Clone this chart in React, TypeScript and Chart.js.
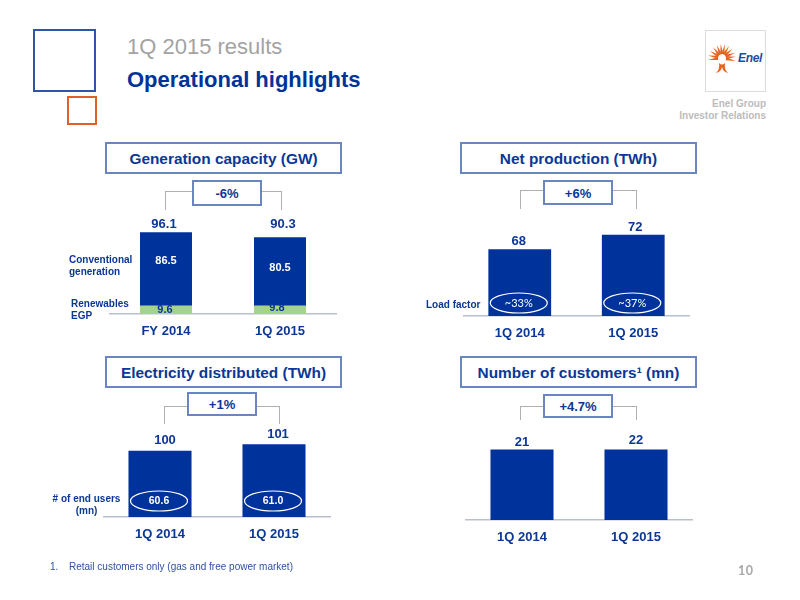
import React, { useEffect, useRef } from "react";
import { Chart, registerables } from "chart.js";

Chart.register(...registerables);

const NAVY = "#0b3796";
const BAR = "#00329b";
const GREEN = "#a6d38b";
const FONT = '"Liberation Sans", Arial, sans-serif';

const capacityCategories = ["FY 2014", "1Q 2015"];
const capacityRenewables = [9.6, 9.8];
const capacityConventional = [86.5, 80.5];
const capacityTotals = [96.1, 90.3];

const productionCategories = ["1Q 2014", "1Q 2015"];
const productionValues = [68, 72];
const loadFactors = ["~33%", "~37%"];

const distributedCategories = ["1Q 2014", "1Q 2015"];
const distributedValues = [100, 101];
const endUsers = ["60.6", "61.0"];

const customerCategories = ["1Q 2014", "1Q 2015"];
// the slide prints rounded numbers but draws both bars the same height
const customerValues = [21.49, 21.5];

type Panel = {
  left: number;
  width: number;
  top: number;
  baseline: number;
  min: number;
  max: number;
  barPercentage: number;
  categories: string[];
  series: { data: number[]; color: string }[];
  topLabels: string[];
  topShift: number[][];
  inside?: { series: number; labels: number[]; color: string; shift: number[][] }[];
  ovals?: string[];
  ovalFont?: string;
  ovalRise?: number;
};

const panels: Panel[] = [
  {
    left: 109, width: 228, top: 200, baseline: 314, min: 0, max: 134, barPercentage: 0.456,
    categories: capacityCategories,
    series: [
      { data: capacityRenewables, color: GREEN },
      { data: capacityConventional, color: BAR },
    ],
    topLabels: capacityTotals.map((v) => v.toFixed(1)),
    topShift: [[-2, -8], [3, -12.5]],
    inside: [
      { series: 0, labels: capacityRenewables, color: NAVY, shift: [[-1, 0], [-3, -2]] },
      { series: 1, labels: capacityConventional, color: "#ffffff", shift: [[0, -8], [0, -3]] },
    ],
  },
  {
    left: 463, width: 227, top: 200, baseline: 316, min: 49.6, max: 81.6, barPercentage: 0.553,
    categories: productionCategories,
    series: [{ data: productionValues, color: BAR }],
    topLabels: productionValues.map(String),
    topShift: [[-1, -8], [2, -7]],
    ovals: loadFactors,
    ovalFont: '11px Lato, sans-serif',
    ovalRise: 13,
  },
  {
    left: 103, width: 228, top: 410, baseline: 517, min: 89.8, max: 106.3, barPercentage: 0.553,
    categories: distributedCategories,
    series: [{ data: distributedValues, color: BAR }],
    topLabels: distributedValues.map(String),
    topShift: [[5, -10], [4, -10]],
    ovals: endUsers,
    ovalFont: `bold 10.5px ${FONT}`,
    ovalRise: 16,
  },
  {
    left: 465, width: 228, top: 410, baseline: 520, min: 0, max: 33.5, barPercentage: 0.553,
    categories: customerCategories,
    series: [{ data: customerValues, color: BAR }],
    topLabels: customerValues.map((v) => String(Math.round(v))),
    topShift: [[0, -7], [0, -9]],
  },
];

function marksPlugin(panel: Panel) {
  return {
    id: "marks",
    afterDatasetsDraw(chart: any) {
      const ctx = chart.ctx;
      ctx.save();
      ctx.textAlign = "center";
      ctx.textBaseline = "middle";
      const lastMeta = chart.getDatasetMeta(panel.series.length - 1);
      ctx.font = `bold 13px ${FONT}`;
      ctx.fillStyle = NAVY;
      panel.topLabels.forEach((text, i) => {
        const bar = lastMeta.data[i];
        ctx.fillText(text, bar.x + panel.topShift[i][0], bar.y + panel.topShift[i][1]);
      });
      (panel.inside || []).forEach((group) => {
        const meta = chart.getDatasetMeta(group.series);
        ctx.font = `bold 11px ${FONT}`;
        ctx.fillStyle = group.color;
        group.labels.forEach((v, i) => {
          const bar = meta.data[i];
          const y = (bar.y + bar.base) / 2;
          ctx.fillText(v.toFixed(1), bar.x + group.shift[i][0], y + group.shift[i][1]);
        });
      });
      (panel.ovals || []).forEach((text, i) => {
        const bar = lastMeta.data[i];
        // bar.base is off the canvas on the truncated axes, so go from the chart area
        const cy = chart.chartArea.bottom - (panel.ovalRise || 0);
        ctx.beginPath();
        ctx.ellipse(bar.x - 1, cy, 28.5, 10, 0, 0, Math.PI * 2);
        ctx.strokeStyle = "#ffffff";
        ctx.lineWidth = 1.2;
        ctx.stroke();
        ctx.font = panel.ovalFont;
        ctx.fillStyle = "#ffffff";
        ctx.fillText(text, bar.x - 1, cy);
      });
      ctx.restore();
    },
  };
}

const BarPanel: React.FC<{ panel: Panel }> = ({ panel }) => {
  const ref = useRef<HTMLCanvasElement | null>(null);

  useEffect(() => {
    if (!ref.current) return;
    const chart = new Chart(ref.current, {
      type: "bar",
      data: {
        labels: panel.categories,
        datasets: panel.series.map((s) => ({
          data: s.data,
          backgroundColor: s.color,
          barPercentage: panel.barPercentage,
          categoryPercentage: 1,
        })),
      },
      options: {
        animation: false,
        responsive: true,
        maintainAspectRatio: false,
        layout: { padding: 0 },
        plugins: { legend: { display: false }, tooltip: { enabled: false } },
        scales: {
          x: {
            stacked: true,
            grid: { display: false, drawTicks: false },
            border: { display: true, color: "#b9bfce", width: 1.5 },
            ticks: { color: NAVY, font: { family: FONT, size: 13, weight: "bold" }, padding: 10, maxRotation: 0 },
            afterFit: (axis: any) => {
              axis.height = 28;
            },
          },
          y: { stacked: true, display: false, min: panel.min, max: panel.max },
        },
      } as any,
      plugins: [marksPlugin(panel)],
    });
    return () => chart.destroy();
  }, [panel]);

  return (
    <div style={{ position: "absolute", left: panel.left, top: panel.top, width: panel.width, height: panel.baseline - panel.top + 28 }}>
      <canvas ref={ref} />
    </div>
  );
};

const Label: React.FC<{
  x: number;
  y: number;
  size: number;
  color?: string;
  bold?: boolean;
  align?: "left" | "right" | "center";
  children: React.ReactNode;
}> = ({ x, y, size, color = NAVY, bold = true, align = "left", children }) => {
  const shift = align === "left" ? "0" : align === "right" ? "-100%" : "-50%";
  return (
    <div
      style={{
        position: "absolute",
        left: x,
        top: y,
        transform: `translate(${shift}, -50%)`,
        fontFamily: FONT,
        fontSize: size,
        fontWeight: bold ? "bold" : "normal",
        color,
        whiteSpace: "nowrap",
        lineHeight: 1,
      }}
    >
      {children}
    </div>
  );
};

const Outline: React.FC<{ x: number; y: number; w: number; h: number; color: string; size?: number }> = ({ x, y, w, h, color, size = 2 }) => (
  <div style={{ position: "absolute", left: x, top: y, width: w, height: h, boxSizing: "border-box", border: `${size}px solid ${color}` }} />
);

const HeaderBox: React.FC<{ x: number; y: number; children: React.ReactNode }> = ({ x, y, children }) => (
  <>
    <Outline x={x} y={y} w={237} h={32} color="#6a85bf" />
    <Label x={x + 118.5} y={y + 16.5} size={15.4} align="center">{children}</Label>
  </>
);

const ChangeBox: React.FC<{ x: number; y: number; h: number; from: number; to: number; lineY: number; lineEnd: number; text: string }> = ({ x, y, h, from, to, lineY, lineEnd, text }) => (
  <>
    <div
      style={{
        position: "absolute", left: from, top: lineY, width: to - from, height: lineEnd - lineY,
        boxSizing: "border-box", border: "1px solid #b0b0b0", borderBottom: "none",
      }}
    />
    <div style={{ position: "absolute", left: x, top: y, width: 70, height: h, boxSizing: "border-box", border: "2px solid #6a85bf", background: "#fff" }} />
    <Label x={x + 35} y={y + h / 2} size={13} align="center">{text}</Label>
  </>
);

const rayAngles = [-170, -150, -130, -112, -95, -78, -60, -42, -22, -5, 12, 172];

const Logo: React.FC = () => (
  <>
    <Outline x={705} y={30} w={61} h={62} color="#dcdcdc" size={1} />
    <svg width={61} height={62} style={{ position: "absolute", left: 705, top: 30 }}>
      {rayAngles.map((a) => (
        <polygon key={a} points="4,-1.5 14,0 4,1.5" fill="#e9641f" transform={`translate(17 28) rotate(${a})`} />
      ))}
      <path d="M14 33 Q15 40 11 43 Q16 42 17 37 Q18 42 23 43 Q19 40 20 33 Q17 36 14 33 Z" fill="#e9641f" />
    </svg>
    <div style={{ position: "absolute", left: 738, top: 52, fontFamily: FONT, fontSize: 12, fontStyle: "italic", fontWeight: "bold", color: "#1b4f9c", lineHeight: 1, letterSpacing: -0.3 }}>
      Enel
    </div>
  </>
);

export default function App() {
  return (
    <div style={{ position: "absolute", left: 0, top: 0, width: 800, height: 600, overflow: "hidden", background: "#fff" }}>
      <Outline x={33} y={29} w={63} h={63} color="#2f55a5" />
      <Outline x={66.5} y={96} w={30} h={29} color="#e0602a" />
      <Label x={127} y={47} size={22} color="#a3a3a3" bold={false}>1Q 2015 results</Label>
      <Label x={127} y={80} size={22} color="#003399">Operational highlights</Label>
      <Logo />
      <Label x={766} y={104} size={10} color="#bcbcbc" align="right">Enel Group</Label>
      <Label x={766} y={116} size={10} color="#bcbcbc" align="right">Investor Relations</Label>

      <HeaderBox x={105} y={142}>Generation capacity (GW)</HeaderBox>
      <HeaderBox x={460} y={142}>Net production (TWh)</HeaderBox>
      <HeaderBox x={105} y={356}>Electricity distributed (TWh)</HeaderBox>
      <HeaderBox x={460} y={356}>Number of customers¹ (mn)</HeaderBox>

      <ChangeBox x={192} y={180} h={26} from={165} to={282} lineY={191} lineEnd={210} text="-6%" />
      <ChangeBox x={543} y={180} h={25} from={520} to={637} lineY={190} lineEnd={209} text="+6%" />
      <ChangeBox x={187} y={392} h={24} from={164} to={280} lineY={406} lineEnd={424} text="+1%" />
      <ChangeBox x={543} y={394} h={24} from={520} to={637} lineY={406} lineEnd={420} text="+4.7%" />

      {panels.map((p) => (
        <BarPanel key={p.left + p.top} panel={p} />
      ))}

      <Label x={69} y={260} size={10}>Conventional</Label>
      <Label x={69} y={272} size={10}>generation</Label>
      <Label x={71} y={303.5} size={10}>Renewables</Label>
      <Label x={71} y={315.5} size={10}>EGP</Label>
      <Label x={426} y={305} size={10}>Load factor</Label>
      <Label x={86.5} y={499} size={10} align="center"># of end users</Label>
      <Label x={86.5} y={511} size={10} align="center">(mn)</Label>

      <Label x={50} y={567} size={10} color="#2f50a3" bold={false}>1.</Label>
      <Label x={69} y={567} size={10} color="#2f50a3" bold={false}>Retail customers only (gas and free power market)</Label>
      <div style={{ position: "absolute", left: 738, top: 565, fontFamily: "Lato, sans-serif", fontWeight: "bold", fontSize: 12.5, color: "#a8a8a8", lineHeight: 1, letterSpacing: 0.5 }}>10</div>
    </div>
  );
}
